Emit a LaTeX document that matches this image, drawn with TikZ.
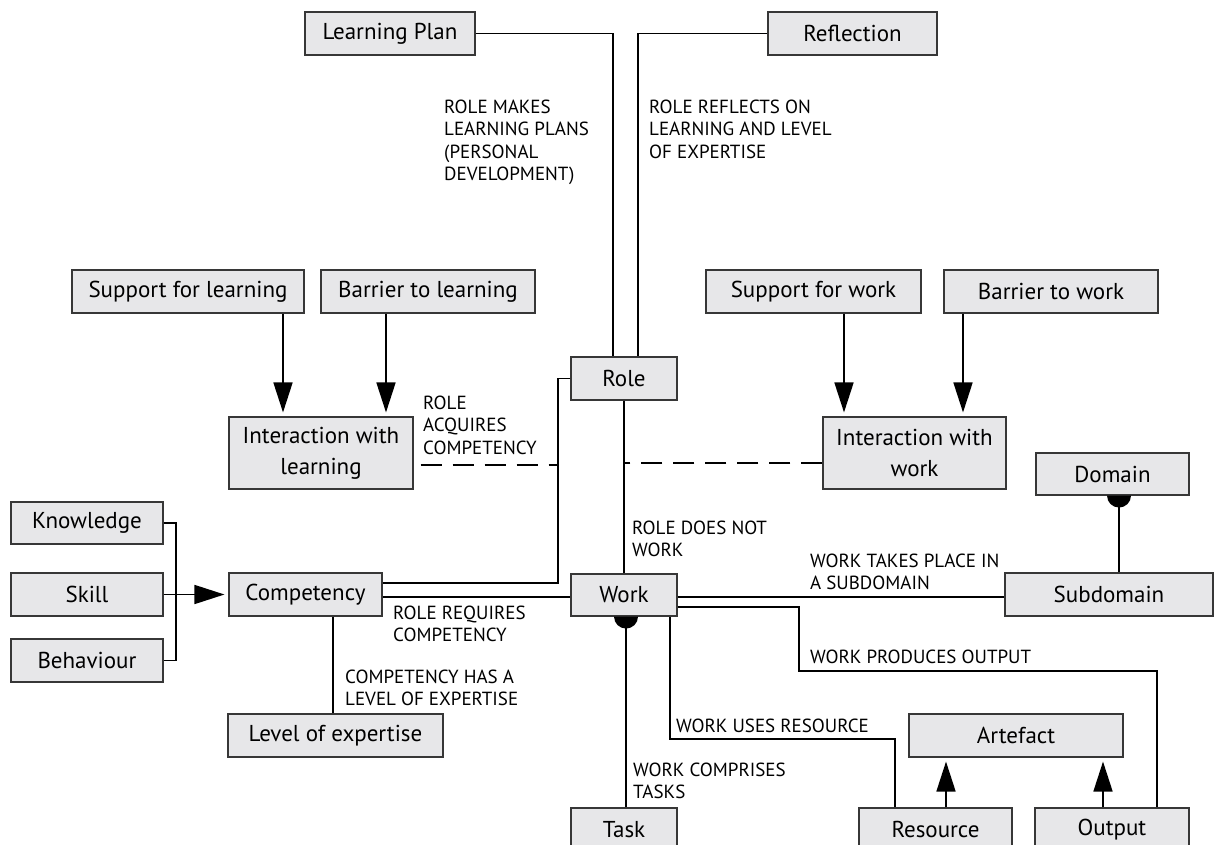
\documentclass[tikz,border=0pt]{standalone}
\usepackage{fontspec}
\setmainfont{PT Sans}
\usetikzlibrary{arrows.meta}
\definecolor{boxfill}{RGB}{231,231,233}
\definecolor{boxline}{RGB}{55,55,55}
\begin{document}
\begin{tikzpicture}[x=1pt,y=-1pt,
  box/.style={draw=boxline, line width=1.1pt, fill=boxfill, inner sep=0pt, align=center,
    font=\fontsize{23}{31}\selectfont, minimum height=43pt},
  lbl/.style={anchor=north west, inner sep=0pt, align=left, font=\fontsize{19}{22.5}\selectfont},
  conn/.style={line width=1.6pt},
  arr/.style={conn, -{Triangle[length=30pt,width=19pt]}, shorten >=4pt},
  dsh/.style={conn, dash pattern=on 21pt off 11pt}]
\clip (0,0) rectangle (1215,845);
\fill[white] (0,0) rectangle (1215,845);
% boxes
\node[box, minimum width=170pt] (lp) at (390,33.5) {Learning Plan};
\node[box, minimum width=169pt] (refl) at (852.5,33.5) {Reflection};
\node[box, minimum width=232pt] (sl) at (188,291.5) {Support for learning};
\node[box, minimum width=214pt] (bl) at (428,291.5) {Barrier to learning};
\node[box, minimum width=215pt] (sw) at (813.5,291.5) {Support for work};
\node[box, minimum width=214pt] (bw) at (1051,291.5) {Barrier to work};
\node[box, minimum width=106pt] (role) at (624,378.5) {Role};
\node[box, minimum width=184pt, minimum height=72pt] (il) at (321,453) {Interaction with\\learning};
\node[box, minimum width=183pt, minimum height=72pt] (iw) at (914.5,453) {Interaction with\\work};
\node[box, minimum width=153pt, minimum height=42pt] (dom) at (1112.5,474) {Domain};
\node[box, minimum width=152pt, minimum height=42pt] (know) at (87,523) {Knowledge};
\node[box, minimum width=152pt] (skill) at (87,594.5) {Skill};
\node[box, minimum width=152pt] (beh) at (87,660.5) {Behaviour};
\node[box, minimum width=153pt] (comp) at (305.5,594.5) {Competency};
\node[box, minimum width=106pt, minimum height=42pt] (work) at (624,595) {Work};
\node[box, minimum width=208pt] (sub) at (1109,594.5) {Subdomain};
\node[box, minimum width=215pt] (lev) at (335.5,735.5) {Level of expertise};
\node[box, minimum width=214pt] (art) at (1016,735.5) {Artefact};
\node[box, minimum width=106pt] (task) at (624,829.5) {Task};
\node[box, minimum width=153pt] (res) at (935.5,829.5) {Resource};
\node[box, minimum width=154pt] (out) at (1112,829.5) {Output};
% helper coordinates
\coordinate (rl) at (558,378.5);
\coordinate (ksb) at (176,594.5);
\coordinate (wp) at (799,671);
\coordinate (wu) at (895,739);
% connectors
\draw[conn] (lp.east) -| ([xshift=-11pt]role.north);
\draw[conn] (refl.west) -| ([xshift=14pt]role.north);
\draw[conn] (role.west) -- (rl) |- ([yshift=11.5pt]comp.east);
\draw[dsh, dash phase=25pt] ([yshift=-12pt]il.east) -- ([yshift=-12pt]il.east -| rl);
\draw[dsh] ([yshift=-10pt]iw.west) -- ([yshift=-10pt]iw.west -| role.south);
\draw[conn] (role.south) -- (work.north);
\draw[arr] ([xshift=95pt]sl.south) -- ([xshift=95pt]sl.south |- il.north);
\draw[arr] ([xshift=-42pt]bl.south) -- ([xshift=-42pt]bl.south |- il.north);
\draw[arr] ([xshift=30.5pt]sw.south) -- ([xshift=30.5pt]sw.south |- iw.north);
\draw[arr] ([xshift=-88pt]bw.south) -- ([xshift=-88pt]bw.south |- iw.north);
\draw[conn] (know.east) -| (ksb) |- (beh.east);
\draw[arr] (skill.east) -- (comp.west);
\draw[conn] ([yshift=-2.5pt]comp.east) -- ([yshift=-2.5pt]comp.east -| work.west);
\draw[conn] ([xshift=27.5pt]comp.south) -- ([xshift=27.5pt]comp.south |- lev.north);
\draw[conn] ([xshift=2pt]work.south) -- ([xshift=2pt]work.south |- task.north);
\fill ([xshift=2pt]work.south) ++(-12pt,0pt) arc[start angle=180,end angle=360,radius=12pt] -- cycle;
\draw[conn] ([yshift=-2pt]work.east) -- ([yshift=-2pt]work.east -| sub.west);
\draw[conn] ([yshift=-12pt]work.east) -| (wp) -| ([xshift=45pt]out.north);
\draw[conn] ([xshift=46pt]work.south) |- (wu) -- ([xshift=-40.5pt]res.north);
\draw[arr] ([xshift=10.5pt]res.north) -- ([xshift=10.5pt]res.north |- art.south);
\draw[arr] ([xshift=-9pt]out.north) -- ([xshift=-9pt]out.north |- art.south);
\draw[conn] ([xshift=10pt]sub.north) -- ([xshift=10pt]sub.north |- dom.south);
\fill ([xshift=10pt]sub.north |- dom.south) ++(-12pt,0pt) arc[start angle=180,end angle=360,radius=12pt] -- cycle;
% labels
\node[lbl] (t1) at (444,99.5) {ROLE MAKES\\LEARNING PLANS\\(PERSONAL\\DEVELOPMENT)};
\node[lbl] (t2) at (649,99.5) {ROLE REFLECTS ON\\LEARNING AND LEVEL\\OF EXPERTISE};
\node[lbl] (t3) at (423,395.5) {ROLE\\ACQUIRES\\COMPETENCY};
\node[lbl] (t4) at (632,520.5) {ROLE DOES NOT\\WORK};
\node[lbl] (t5) at (810,553.5) {WORK TAKES PLACE IN\\A SUBDOMAIN};
\node[lbl] (t6) at (393,605.5) {ROLE REQUIRES\\COMPETENCY};
\node[lbl] (t7) at (345,669.5) {COMPETENCY HAS A\\LEVEL OF EXPERTISE};
\node[lbl] (t8) at (810,649.5) {WORK PRODUCES OUTPUT};
\node[lbl] (t9) at (676,718.5) {WORK USES RESOURCE};
\node[lbl] (t10) at (633,762.5) {WORK COMPRISES\\TASKS};
\end{tikzpicture}
\end{document}
